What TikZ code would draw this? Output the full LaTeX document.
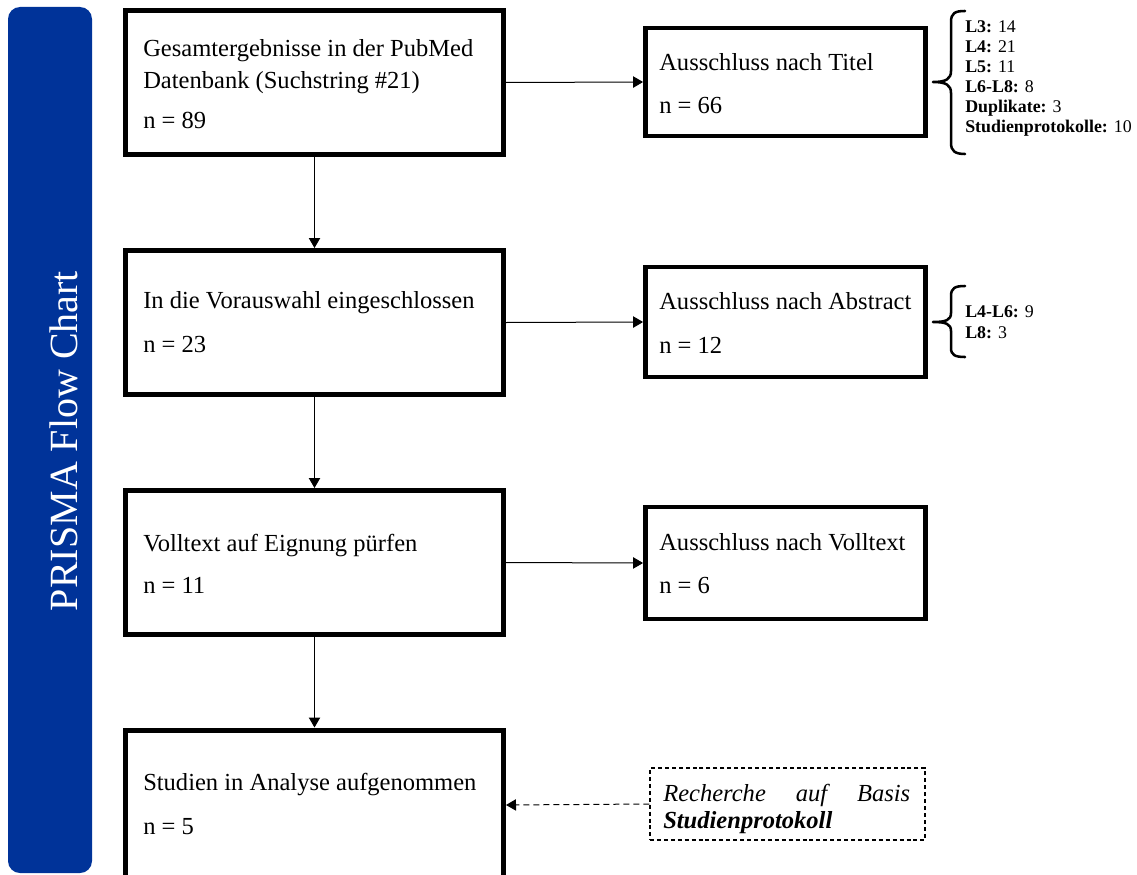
\documentclass[tikz,border=0pt]{standalone}
\usepackage{fontspec}
\setmainfont{Liberation Serif}
\usetikzlibrary{arrows.meta}
\definecolor{prismablue}{RGB}{0,51,153}
\begin{document}
\begin{tikzpicture}[x=0.75pt,y=-0.75pt,
  mainbox/.style={draw, line width=3.75pt, inner sep=0pt, minimum width=283.5pt, minimum height=108pt},
  sidebox/.style={draw, line width=3.6pt, inner sep=0pt, minimum width=210pt},
  txt/.style={anchor=base west, inner sep=0pt, font=\fontsize{18.4pt}{24pt}\selectfont},
  small/.style={anchor=base west, inner sep=0pt, font=\fontsize{13.4pt}{15pt}\selectfont},
  arr/.style={line width=0.75pt, -{Triangle[length=7.5pt,width=8.5pt]}},
  bracepath/.style={line width=1.9pt, line cap=round, line join=round}]
\useasboundingbox (0,0) rectangle (1137,874);
\clip (0,0) rectangle (1137,874);

% side bar
\node[fill=prismablue, rounded corners=9pt, minimum width=63pt, minimum height=649.5pt, inner sep=0pt] (side) at (50,440) {};
\node[rotate=90, text=white, inner sep=0pt, font=\fontsize{30pt}{36pt}\selectfont] (title) at (64,441) {PRISMA Flow Chart};

% main boxes
\node[mainbox] (b1) at (314.5,82.5) {};
\node[mainbox] (b2) at (314.5,322.5) {};
\node[mainbox] (b3) at (314.5,562.5) {};
\node[mainbox, minimum height=112.5pt] (b4) at (314.5,805) {};

\node[txt] (b1t1) at (143,57) {Gesamtergebnisse in der PubMed};
\node[txt] (b1t2) at (143,89) {Datenbank (Suchstring \#21)};
\node[txt] (b1n) at (143,128) {n = 89};
\node[txt] (b2t) at (143,308) {In die Vorauswahl eingeschlossen};
\node[txt] (b2n) at (143,352) {n = 23};
\node[txt] (b3t) at (143,551) {Volltext auf Eignung pürfen};
\node[txt] (b3n) at (143,593) {n = 11};
\node[txt] (b4t) at (143,790) {Studien in Analyse aufgenommen};
\node[txt] (b4n) at (143,834) {n = 5};

% side boxes
\node[sidebox, minimum height=81pt] (r1) at (785.5,82) {};
\node[sidebox, minimum height=82.5pt] (r2) at (785.5,322) {};
\node[sidebox, minimum height=84pt] (r3) at (785.5,563) {};

\node[txt] (r1t) at (659,70) {Ausschluss nach Titel};
\node[txt] (r1n) at (659,113) {n = 66};
\node[txt] (r2t) at (659,309) {Ausschluss nach Abstract};
\node[txt] (r2n) at (659,353) {n = 12};
\node[txt] (r3t) at (659,550) {Ausschluss nach Volltext};
\node[txt] (r3n) at (659,593) {n = 6};

% dashed box
\node[draw, dashed, dash pattern=on 3pt off 2.2pt, line width=1.1pt, minimum width=206.25pt, minimum height=54pt, inner sep=0pt] (rech) at (787.5,804) {};
\node[txt] (recht1) at (663,801) {\makebox[185.25pt][s]{\itshape Recherche\hfill auf\hfill Basis}};
\node[txt] (recht2) at (663,828) {\bfseries\itshape Studienprotokoll};

% connectors
\draw[arr] (b1.south) -- (b2.north);
\draw[arr] (b2.south) -- (b3.north);
\draw[arr] (b3.south) -- (b4.north);
\draw[arr] (b1.east) -- (r1.west);
\draw[arr] (b2.east) -- (r2.west);
\draw[arr] (b3.east) -- (r3.west);
\draw[arr, dashed, dash pattern=on 4.5pt off 3pt] (rech.west) -- (b4.east);

% braces
\draw[bracepath] (965,11) .. controls (955,11) and (951,13) .. (951,22) -- (951,71)
  .. controls (951,79) and (946,82) .. (933,82)
  .. controls (946,82) and (951,85) .. (951,93) -- (951,143)
  .. controls (951,151) and (955,154) .. (965,154);
\draw[bracepath] (965,286) .. controls (955,286) and (951,288) .. (951,296) -- (951,313)
  .. controls (951,320) and (946,322) .. (933,322)
  .. controls (946,322) and (951,324) .. (951,331) -- (951,348)
  .. controls (951,355) and (955,357) .. (965,357);

\node[small] (l1) at (965,33) {\textbf{L3:} 14};
\node[small] (l2) at (965,52.8) {\textbf{L4:} 21};
\node[small] (l3) at (965,72.6) {\textbf{L5:} 11};
\node[small] (l4) at (965,92.4) {\textbf{L6-L8:} 8};
\node[small] (l5) at (965,112.2) {\textbf{Duplikate:} 3};
\node[small] (l6) at (965,132) {\textbf{Studienprotokolle:} 10};
\node[small] (m1) at (965,317) {\textbf{L4-L6:} 9};
\node[small] (m2) at (965,338) {\textbf{L8:} 3};
\end{tikzpicture}
\end{document}
